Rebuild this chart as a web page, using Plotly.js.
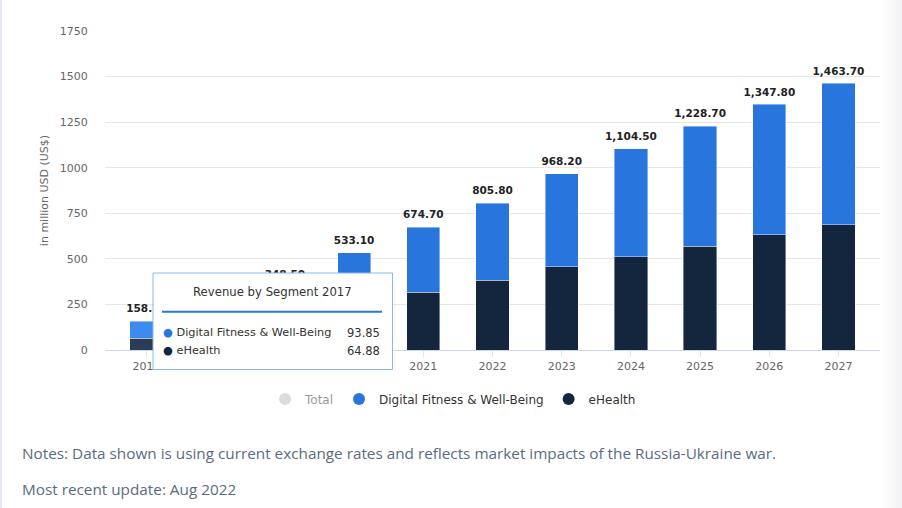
<!DOCTYPE html>
<html>
<head>
<meta charset="utf-8">
<script src="https://cdn.plot.ly/plotly-3.0.1.min.js"></script>
<style>
  html, body { margin: 0; padding: 0; }
  body { width: 902px; height: 508px; overflow: hidden;
         background: linear-gradient(to right, #ffffff 0px, #ffffff 880px, #f3f3f5 902px); }
  #frame { position: absolute; left: 0; top: 0; width: 902px; height: 508px; border-left: 2px solid #e4e9f1; box-sizing: border-box; }
  #chart { position: absolute; left: 0; top: 0; width: 902px; height: 508px; }
</style>
</head>
<body>
<div id="frame"></div>
<div id="chart"></div>
<script>
// ---- data ----
const years = ['2017','2018','2019','2020','2021','2022','2023','2024','2025','2026','2027'];
const eHealth = [64.88, 100.0, 150.0, 240.0, 316.5, 382.0, 457.0, 512.0, 569.0, 633.0, 688.0];
const totals = [158.73, 241.30, 348.50, 533.10, 674.70, 805.80, 968.20, 1104.50, 1228.70, 1347.80, 1463.70];
const digitalFitness = totals.map((t, i) => +(t - eHealth[i]).toFixed(2));
const yTicks = [0, 250, 500, 750, 1000, 1250, 1500, 1750];
const tooltipYear = '2017';
const tooltipDigital = '93.85';
const tooltipEHealth = '64.88';

const BLUE = '#2876dd', NAVY = '#13263e';
const BLUE_HI = '#3d8bef', NAVY_HI = '#2b3c57';
const FONT = 'DejaVu Sans, sans-serif';

const fmt = v => v.toLocaleString('en-US', {minimumFractionDigits: 2, maximumFractionDigits: 2});
const hiIdx = years.indexOf(tooltipYear);

const traces = [
  { type: 'bar', x: years, y: eHealth, name: 'eHealth', showlegend: false,
    marker: { color: years.map((_, i) => i === hiIdx ? NAVY_HI : NAVY), line: { color: 'rgba(255,255,255,0.7)', width: 0.6 } },
    hoverinfo: 'skip' },
  { type: 'bar', x: years, y: digitalFitness, name: 'Digital Fitness & Well-Being', showlegend: false,
    marker: { color: years.map((_, i) => i === hiIdx ? BLUE_HI : BLUE), line: { color: 'rgba(255,255,255,0.7)', width: 0.6 } },
    hoverinfo: 'skip' },
  { type: 'scatter', mode: 'markers+text', x: years, y: totals, text: totals.map(fmt),
    marker: { size: 8, color: 'rgba(0,0,0,0)' },
    textposition: 'top center', textfont: { family: FONT, size: 10.5, color: '#222', weight: 'bold' },
    showlegend: false, hoverinfo: 'skip', cliponaxis: false },
  // legend entries
  { type: 'scatter', mode: 'markers', x: [years[0]], y: [null], name: 'Total', visible: 'legendonly',
    marker: { color: '#bbbbbb', size: 12, symbol: 'circle' } },
  { type: 'scatter', mode: 'markers', x: [years[0]], y: [null], name: 'Digital Fitness & Well-Being',
    marker: { color: BLUE, size: 12, symbol: 'circle' } },
  { type: 'scatter', mode: 'markers', x: [years[0]], y: [null], name: 'eHealth',
    marker: { color: NAVY, size: 12, symbol: 'circle' } }
];

const L = 105, R = 880, T = 31, B = 350;
const px = x => (x - L) / (R - L);
const py = y => (B - y) / (B - T);

const layout = {
  width: 902, height: 508,
  margin: { l: L, r: 902 - R, t: T, b: 508 - B },
  paper_bgcolor: 'rgba(0,0,0,0)', plot_bgcolor: 'rgba(0,0,0,0)',
  font: { family: FONT, color: '#333' },
  barmode: 'stack', bargap: 0.52,
  xaxis: { type: 'category', range: [-0.6, 10.6], showline: true, linecolor: '#ccd6eb', linewidth: 1,
           ticks: 'outside', ticklen: 6, tickcolor: '#e0e6ef', showgrid: false, fixedrange: true,
           tickfont: { family: FONT, size: 11, color: '#666' } },
  yaxis: { range: [0, 1750], tickvals: yTicks, ticktext: yTicks.map(String), showgrid: true, gridcolor: '#e6e6e6',
           zeroline: false, ticks: 'outside', ticklen: 14, tickcolor: 'rgba(0,0,0,0)', fixedrange: true,
           tickfont: { family: FONT, size: 11, color: '#666' },
           title: { text: 'in million USD (US$)', standoff: 8, font: { family: FONT, size: 11, color: '#666' } } },
  showlegend: true,
  legend: { orientation: 'h', traceorder: 'normal', x: px(453), xanchor: 'center', y: py(399), yanchor: 'middle',
            font: { family: FONT, size: 12, color: '#333' }, itemclick: false, itemdoubleclick: false },
  shapes: [
    { type: 'rect', xref: 'paper', yref: 'paper', layer: 'above',
      x0: px(153), x1: px(392.5), y0: py(369.5), y1: py(273),
      fillcolor: '#ffffff', line: { color: '#8db7ef', width: 1 } },
    { type: 'line', xref: 'paper', yref: 'paper', layer: 'above',
      x0: px(162), x1: px(382), y0: py(311.7), y1: py(311.7),
      line: { color: BLUE, width: 2 } }
  ],
  annotations: [
    { xref: 'paper', yref: 'paper', x: px(272), y: py(292.3), xanchor: 'center', yanchor: 'middle', showarrow: false,
      text: 'Revenue by Segment ' + tooltipYear, font: { family: FONT, size: 11.7, color: '#333' } },
    { xref: 'paper', yref: 'paper', x: px(161), y: py(332.7), xanchor: 'left', yanchor: 'middle', showarrow: false,
      text: '<span style="color:' + BLUE + '">●</span> Digital Fitness &amp; Well-Being', font: { family: FONT, size: 11.3, color: '#333' } },
    { xref: 'paper', yref: 'paper', x: px(382), y: py(332.7), xanchor: 'right', yanchor: 'middle', showarrow: false,
      text: tooltipDigital, font: { family: FONT, size: 11.5, color: '#333' } },
    { xref: 'paper', yref: 'paper', x: px(161), y: py(351), xanchor: 'left', yanchor: 'middle', showarrow: false,
      text: '<span style="color:' + NAVY + '">●</span> eHealth', font: { family: FONT, size: 11.3, color: '#333' } },
    { xref: 'paper', yref: 'paper', x: px(382), y: py(351), xanchor: 'right', yanchor: 'middle', showarrow: false,
      text: tooltipEHealth, font: { family: FONT, size: 11.5, color: '#333' } },
    { xref: 'paper', yref: 'paper', x: px(20), y: py(453), xanchor: 'left', yanchor: 'middle', showarrow: false,
      text: 'Notes: Data shown is using current exchange rates and reflects market impacts of the Russia-Ukraine war.',
      font: { family: 'Open Sans, sans-serif', size: 15.3, color: '#5b6b7f' } },
    { xref: 'paper', yref: 'paper', x: px(20), y: py(489), xanchor: 'left', yanchor: 'middle', showarrow: false,
      text: 'Most recent update: Aug 2022',
      font: { family: 'Open Sans, sans-serif', size: 15.3, color: '#5b6b7f' } }
  ]
};

Plotly.newPlot('chart', traces, layout, { displayModeBar: false, responsive: false });
</script>
</body>
</html>
